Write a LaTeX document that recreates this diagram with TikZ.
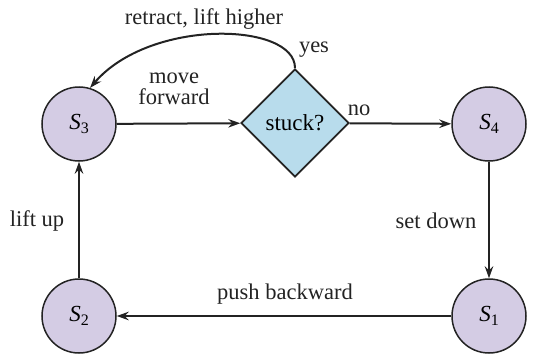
\documentclass[tikz,border=0pt]{standalone}
\usepackage{fontspec}
\setmainfont{Liberation Serif}
\newfontfamily\serifa{Liberation Serif}
\usetikzlibrary{shapes.geometric,arrows.meta}
\definecolor{statefill}{RGB}{212,204,228}
\definecolor{decfill}{RGB}{184,220,236}
\definecolor{ink}{RGB}{35,35,35}
\newcommand{\stname}[1]{{\serifa\itshape S}\raisebox{-0.35ex}{\serifa\fontsize{16}{18}\selectfont #1}}
\tikzset{
  statenode/.style={circle, draw=ink, line width=1.5pt, fill=statefill, minimum size=74pt, inner sep=0pt, font=\serifa\fontsize{23}{26}\selectfont},
  decnode/.style={diamond, draw=ink, line width=1.9pt, fill=decfill, minimum width=108pt, minimum height=108pt, inner sep=0pt, font=\serifa\fontsize{23}{26}\selectfont},
  conn/.style={draw=ink, line width=2pt, -{Stealth[length=12pt,width=8.5pt,inset=4pt]}},
  lbl/.style={font=\serifa\fontsize{22.5}{24}\selectfont, text=ink, inner sep=0pt, align=center}
}
\begin{document}
\begin{tikzpicture}[x=1pt,y=-1pt]
\useasboundingbox (0,0) rectangle (541,356);
\node[statenode] (s3) at (79,124) {\stname{3}};
\node[statenode] (s4) at (489,124) {\stname{4}};
\node[statenode] (s2) at (79,316) {\stname{2}};
\node[statenode] (s1) at (489,316) {\stname{1}};
\node[decnode] (d) at (295,123) {stuck?};
\draw[conn] (s3) -- (d);
\draw[conn] (d) -- (s4);
\draw[conn] (s4) -- (s1);
\draw[conn] (s1) -- (s2);
\draw[conn] (s2) -- (s3);
\draw[conn] (d.north) .. controls (295,22) and (150,18) .. (s3.73);
\node[lbl] (l1) at (204,19) {retract, lift higher};
\node[lbl] (l2) at (314,50) {yes};
\node[lbl, text width=90pt, align=center] (l3) at (174,89) {move\\[-3pt]forward};
\node[lbl] (l4) at (359,110) {no};
\node[lbl] (l5) at (37,221) {lift up};
\node[lbl] (l6) at (436,221) {set down};
\node[lbl] (l7) at (285,294) {push backward};
\end{tikzpicture}
\end{document}
